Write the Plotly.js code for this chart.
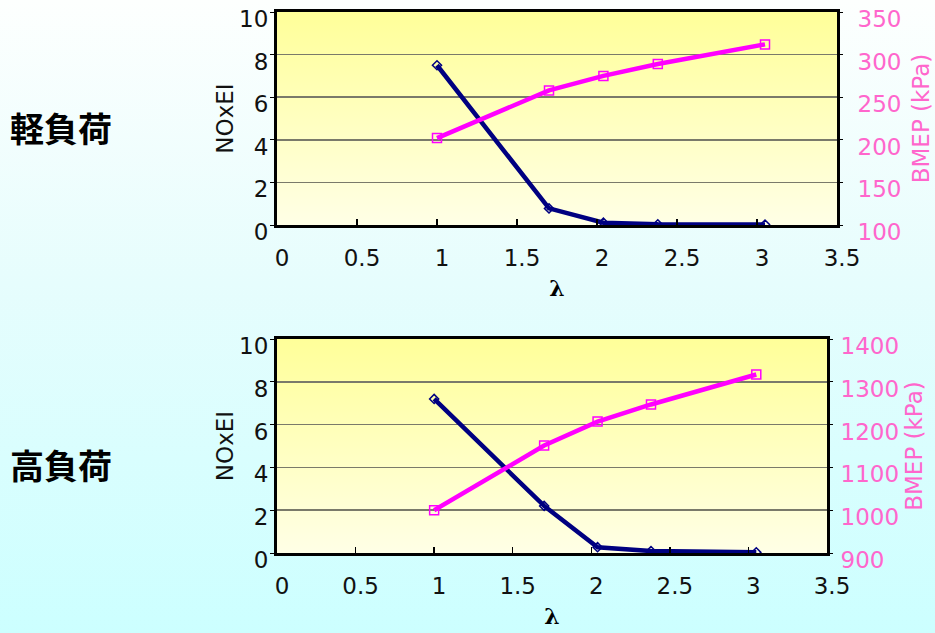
<!DOCTYPE html>
<html>
<head>
<meta charset="utf-8">
<script src="https://cdn.plot.ly/plotly-3.0.1.min.js"></script>
<style>
html,body{margin:0;padding:0;width:935px;height:633px;overflow:hidden;
background:linear-gradient(to bottom,#fdfffe 0%,#e6fdfd 45%,#ccffff 100%);}
#chart{width:935px;height:633px;}
</style>
</head>
<body>
<div id="chart"></div>
<script>
// λ values
const lambdaLight = [1.0, 1.7, 2.04, 2.38, 3.05];
const noxLight    = [7.5, 0.78, 0.11, 0.03, 0.02];
const bmepLight   = [202, 258, 275, 289, 312];

const lambdaHigh  = [1.0, 1.7, 2.04, 2.38, 3.05];
const noxHigh     = [7.2, 2.2, 0.27, 0.09, 0.03];
const bmepHigh    = [1000, 1151, 1207, 1247, 1317];

const xTicks = [0, 0.5, 1, 1.5, 2, 2.5, 3, 3.5];
const labelLight = '軽負荷';
const labelHigh = '高負荷';

const W = 935, H = 633;
const FONT = '"DejaVu Sans", "Noto Sans", sans-serif';
const NAVY = '#000080', MAG = '#ff00ff', PINK = '#ff66cc';

const gradSvg = 'data:image/svg+xml;utf8,' + encodeURIComponent(
 '<svg xmlns="http://www.w3.org/2000/svg" width="100" height="100" preserveAspectRatio="none">' +
 '<defs><linearGradient id="g" x1="0" y1="0" x2="0" y2="1">' +
 '<stop offset="0" stop-color="#ffff99"/><stop offset="1" stop-color="#ffffe6"/></linearGradient></defs>' +
 '<rect width="100" height="100" fill="url(#g)"/></svg>');

function nox(x, y, xa, ya){
  return {x:x, y:y, xaxis:xa, yaxis:ya, type:'scatter', mode:'lines+markers',
    line:{color:NAVY, width:4.5},
    marker:{symbol:'diamond-open', size:7, color:NAVY, line:{width:1.5, color:NAVY}},
    showlegend:false, hoverinfo:'x+y'};
}
function bmep(x, y, xa, ya){
  return {x:x, y:y, xaxis:xa, yaxis:ya, type:'scatter', mode:'lines+markers',
    line:{color:MAG, width:4.5},
    marker:{symbol:'square-open', size:9, color:MAG, line:{width:1.5, color:MAG}},
    showlegend:false, hoverinfo:'x+y'};
}

const data = [
  nox(lambdaLight, noxLight, 'x', 'y'),
  bmep(lambdaLight, bmepLight, 'x', 'y2'),
  nox(lambdaHigh, noxHigh, 'x2', 'y3'),
  bmep(lambdaHigh, bmepHigh, 'x2', 'y4')
];

function xax(domain, anchor){
  return {domain:domain, anchor:anchor, range:[0,3.5], tickvals:xTicks, ticktext:xTicks.map(String),
    ticks:'inside', ticklen:6, tickwidth:1.5, tickcolor:'#000',
    showline:true, linecolor:'#000', linewidth:3, mirror:true, showgrid:false, zeroline:false,
    tickfont:{family:FONT, size:23, color:'#111'}, ticklabelstandoff:10, ticklabelshift:5,
    ticklabeloverflow:'allow',
    title:{text:'<b>λ</b>', font:{family:'"DejaVu Serif", serif', size:22, color:'#000'}, standoff:12}};
}
function yl(domain, anchor){
  return {domain:domain, anchor:anchor, range:[0,10], tickvals:[0,2,4,6,8,10],
    ticks:'outside', ticklen:4, tickcolor:'#000',
    showline:true, linecolor:'#000', linewidth:3, mirror:true,
    showgrid:true, gridcolor:'#7a7a6a', gridwidth:1.5, zeroline:false,
    tickfont:{family:FONT, size:23, color:'#111'}, ticklabelstandoff:-3, ticklabelshift:7,
    ticklabeloverflow:'allow',
    title:{text:'NOxEI', font:{family:FONT, size:23, color:'#111'}, standoff:0}};
}
function yr(overlay, anchor, range, step, so, tso){
  const tv=[]; for(let v=range[0]; v<=range[1]+1e-9; v+=step) tv.push(v);
  return {overlaying:overlay, anchor:anchor, side:'right', range:range, tickvals:tv,
    ticks:'outside', ticklen:5, tickcolor:'#000', showline:false, showgrid:false, zeroline:false,
    tickfont:{family:FONT, size:23, color:PINK}, ticklabelstandoff:so, ticklabelshift:7,
    ticklabeloverflow:'allow',
    title:{text:'BMEP (kPa)', font:{family:FONT, size:23, color:PINK}, standoff:tso}};
}

const topDom = [1-225/H, 1-12/H];
const botDom = [1-553/H, 1-339/H];

const layout = {
  width:W, height:H, margin:{l:0,r:0,t:0,b:0},
  paper_bgcolor:'rgba(0,0,0,0)', plot_bgcolor:'rgba(0,0,0,0)',
  xaxis: xax([277/W, 837/W], 'y'),
  yaxis: yl(topDom, 'x'),
  yaxis2: yr('y', 'x', [100,350], 50, 10, 12),
  xaxis2: xax([277/W, 827/W], 'y3'),
  yaxis3: yl(botDom, 'x2'),
  yaxis4: yr('y3', 'x2', [900,1400], 100, 3, 7),
  images:[
    {source:gradSvg, xref:'x domain', yref:'y domain', x:0, y:1, sizex:1, sizey:1,
     sizing:'stretch', layer:'below', xanchor:'left', yanchor:'top'},
    {source:gradSvg, xref:'x2 domain', yref:'y3 domain', x:0, y:1, sizex:1, sizey:1,
     sizing:'stretch', layer:'below', xanchor:'left', yanchor:'top'}
  ],
  annotations:[
    {text:'<b>'+labelLight+'</b>', xref:'paper', yref:'paper', x:61/W, y:1-127/H,
     xanchor:'center', yanchor:'middle',
     showarrow:false, font:{family:'"Noto Sans CJK JP", sans-serif', size:34, color:'#000'}},
    {text:'<b>'+labelHigh+'</b>', xref:'paper', yref:'paper', x:61/W, y:1-464/H,
     xanchor:'center', yanchor:'middle',
     showarrow:false, font:{family:'"Noto Sans CJK JP", sans-serif', size:34, color:'#000'}}
  ]
};

Plotly.newPlot('chart', data, layout, {displayModeBar:false, staticPlot:true});
</script>
</body>
</html>
